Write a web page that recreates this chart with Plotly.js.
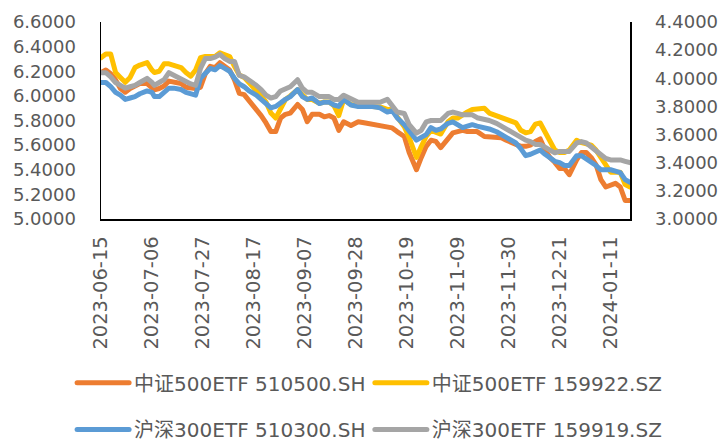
<!DOCTYPE html>
<html>
<head>
<meta charset="utf-8">
<script src="https://cdn.plot.ly/plotly-3.0.1.min.js"></script>
<style>
  html, body { margin: 0; padding: 0; background: #fff; }
  #chart { width: 721px; height: 441px; }
  .js-line { stroke-linejoin: round; stroke-linecap: round; }
</style>
</head>
<body>
<div id="chart"></div>
<script>
const dates = [
  '2023-06-15','2023-06-17','2023-06-19','2023-06-21','2023-06-23','2023-06-25','2023-06-27','2023-06-29','2023-07-01','2023-07-04',
  '2023-07-06','2023-07-07','2023-07-09','2023-07-11','2023-07-13','2023-07-15','2023-07-18','2023-07-20','2023-07-22','2023-07-24',
  '2023-07-26','2023-07-28','2023-07-30','2023-08-01','2023-08-03','2023-08-05','2023-08-07','2023-08-09','2023-08-11','2023-08-13',
  '2023-08-15','2023-08-18','2023-08-20','2023-08-22','2023-08-24','2023-08-26','2023-08-28','2023-08-30','2023-09-01','2023-09-04',
  '2023-09-06','2023-09-08','2023-09-10','2023-09-13','2023-09-15','2023-09-17','2023-09-19','2023-09-21','2023-09-23','2023-09-26',
  '2023-09-29','2023-10-02','2023-10-05','2023-10-08','2023-10-11','2023-10-13','2023-10-15','2023-10-18','2023-10-20','2023-10-23',
  '2023-10-25','2023-10-27','2023-10-29','2023-10-31','2023-11-02','2023-11-05','2023-11-07','2023-11-09','2023-11-11','2023-11-13',
  '2023-11-15','2023-11-17','2023-11-20','2023-11-22','2023-11-25','2023-11-27','2023-11-29','2023-12-01','2023-12-03','2023-12-05',
  '2023-12-07','2023-12-09','2023-12-11','2023-12-13','2023-12-15','2023-12-17','2023-12-19','2023-12-21','2023-12-23','2023-12-25',
  '2023-12-28','2023-12-30','2024-01-01','2024-01-03','2024-01-05','2024-01-07','2024-01-09','2024-01-11','2024-01-13','2024-01-15',
  '2024-01-17','2024-01-19'
];

// 中证500ETF 510500.SH (left axis)
const csi500_510500 = [
  6.19, 6.21, 6.18, 6.13, 6.06, 6.03, 6.06, 6.08, 6.10, 6.10,
  6.07, 6.05, 6.06, 6.08, 6.12, 6.11, 6.10, 6.07, 6.06, 6.06,
  6.07, 6.18, 6.24, 6.23, 6.27, 6.24, 6.21, 6.13, 6.02, 6.01,
  5.96, 5.90, 5.84, 5.78, 5.71, 5.71, 5.82, 5.85, 5.86, 5.93,
  5.89, 5.79, 5.85, 5.85, 5.83, 5.84, 5.82, 5.72, 5.79, 5.76,
  5.79, 5.78, 5.77, 5.76, 5.74, 5.74, 5.71, 5.67, 5.54, 5.40,
  5.50, 5.59, 5.64, 5.63, 5.58, 5.66, 5.70, 5.71, 5.72, 5.71,
  5.71, 5.71, 5.67, 5.67, 5.67, 5.66, 5.64, 5.62, 5.60, 5.59,
  5.59, 5.60, 5.63, 5.65, 5.56, 5.50, 5.46, 5.41, 5.41, 5.36,
  5.48, 5.54, 5.54, 5.50, 5.44, 5.32, 5.26, 5.28, 5.29, 5.26,
  5.15, 5.15
];

// 中证500ETF 159922.SZ (left axis)
const csi500_159922 = [
  6.31, 6.34, 6.34, 6.19, 6.15, 6.11, 6.15, 6.23, 6.25, 6.27,
  6.21, 6.19, 6.20, 6.26, 6.26, 6.25, 6.23, 6.19, 6.16, 6.21,
  6.31, 6.32, 6.32, 6.32, 6.35, 6.34, 6.32, 6.24, 6.17, 6.15,
  6.11, 6.05, 6.00, 5.95, 5.86, 5.82, 5.90, 5.97, 6.00, 6.05,
  6.01, 5.97, 5.97, 5.94, 5.95, 5.95, 5.92, 5.84, 5.97, 5.93,
  5.92, 5.92, 5.92, 5.91, 5.89, 5.89, 5.83, 5.75, 5.66, 5.50,
  5.59, 5.67, 5.72, 5.70, 5.69, 5.79, 5.82, 5.82, 5.85, 5.87,
  5.89, 5.89, 5.90, 5.86, 5.84, 5.83, 5.81, 5.80, 5.78, 5.72,
  5.70, 5.71, 5.77, 5.78, 5.71, 5.62, 5.56, 5.54, 5.54, 5.56,
  5.64, 5.62, 5.61, 5.60, 5.56, 5.50, 5.43, 5.38, 5.38, 5.38,
  5.28, 5.26
];

// 沪深300ETF 510300.SH (right axis)
const csi300_510300 = [
  3.97, 3.97, 3.94, 3.90, 3.88, 3.85, 3.86, 3.87, 3.89, 3.91,
  3.90, 3.87, 3.87, 3.90, 3.93, 3.93, 3.92, 3.90, 3.89, 3.88,
  4.00, 4.04, 4.07, 4.06, 4.09, 4.07, 4.05, 4.00, 3.96, 3.94,
  3.91, 3.88, 3.85, 3.81, 3.79, 3.80, 3.83, 3.85, 3.87, 3.92,
  3.87, 3.85, 3.86, 3.82, 3.83, 3.83, 3.81, 3.80, 3.85, 3.81,
  3.80, 3.80, 3.80, 3.79, 3.76, 3.77, 3.72, 3.67, 3.62, 3.56,
  3.58, 3.60, 3.65, 3.63, 3.64, 3.68, 3.69, 3.67, 3.65, 3.66,
  3.67, 3.66, 3.65, 3.64, 3.62, 3.60, 3.58, 3.57, 3.54, 3.50,
  3.45, 3.46, 3.48, 3.49, 3.46, 3.43, 3.41, 3.40, 3.38, 3.38,
  3.45, 3.45, 3.43, 3.41, 3.38, 3.35, 3.35, 3.35, 3.34, 3.33,
  3.28, 3.26
];

// 沪深300ETF 159919.SZ (right axis)
const csi300_159919 = [
  4.04, 4.04, 4.01, 3.97, 3.95, 3.93, 3.94, 3.95, 3.97, 4.00,
  3.97, 3.95, 3.97, 3.99, 4.04, 4.02, 4.00, 3.97, 3.96, 3.95,
  4.07, 4.14, 4.14, 4.15, 4.17, 4.14, 4.12, 4.12, 4.02, 4.01,
  3.99, 3.95, 3.92, 3.88, 3.86, 3.87, 3.91, 3.93, 3.94, 3.99,
  3.93, 3.90, 3.90, 3.87, 3.87, 3.87, 3.85, 3.85, 3.88, 3.85,
  3.83, 3.83, 3.83, 3.83, 3.85, 3.80, 3.76, 3.75, 3.67, 3.61,
  3.63, 3.69, 3.70, 3.70, 3.70, 3.75, 3.76, 3.75, 3.74, 3.74,
  3.74, 3.72, 3.71, 3.70, 3.68, 3.66, 3.65, 3.63, 3.61, 3.58,
  3.56, 3.55, 3.53, 3.53, 3.51, 3.50, 3.47, 3.48, 3.48, 3.48,
  3.54, 3.55, 3.54, 3.51, 3.48, 3.45, 3.43, 3.42, 3.42, 3.42,
  3.41, 3.40
];

const seriesNames = ['中证500ETF 510500.SH', '中证500ETF 159922.SZ', '沪深300ETF 510300.SH', '沪深300ETF 159919.SZ'];
const seriesColors = ['#ED7D31', '#FFC000', '#5B9BD5', '#A5A5A5'];
const seriesValues = [csi500_510500, csi500_159922, csi300_510300, csi300_159919];
const seriesAxes = ['y', 'y', 'y2', 'y2'];
const legendIds = ['legend', 'legend2', 'legend3', 'legend4'];

const LW = 5;
const traces = seriesValues.map((vals, i) => ({
  type: 'scatter', mode: 'lines',
  x: dates, y: vals, name: seriesNames[i],
  yaxis: seriesAxes[i], legend: legendIds[i],
  line: { color: seriesColors[i], width: LW, shape: 'linear' },
  hoverinfo: 'skip'
}));

const tickFont = { family: 'DejaVu Sans, sans-serif', size: 18, color: '#595959' };
const xTickFont = { family: 'DejaVu Sans, sans-serif', size: 19.5, color: '#595959' };
const legendFont = { family: 'DejaVu Sans, Noto Sans CJK SC, sans-serif', size: 20, color: '#595959' };

function legendAt(xc, yc) {
  return {
    orientation: 'h', xref: 'container', yref: 'container',
    x: xc, xanchor: 'left', y: yc, yanchor: 'middle',
    font: legendFont, itemwidth: 52, borderwidth: 0,
    bgcolor: 'rgba(0,0,0,0)'
  };
}

const layout = {
  width: 721, height: 441,
  margin: { l: 101, r: 91, t: 22, b: 222 },
  paper_bgcolor: '#ffffff', plot_bgcolor: '#ffffff',
  showlegend: true,
  xaxis: {
    type: 'date',
    range: ['2023-06-15', '2024-01-19'],
    tick0: '2023-06-15', dtick: 21 * 86400000,
    tickformat: '%Y-%m-%d', tickangle: -90,
    showgrid: false, zeroline: false,
    showline: true, linecolor: '#000000', linewidth: 1.5,
    ticks: '', ticklabelstandoff: 8,
    tickfont: xTickFont
  },
  yaxis: {
    range: [5.0, 6.6], dtick: 0.2, tick0: 5.0, tickformat: '.4f',
    showgrid: false, zeroline: false,
    showline: true, linecolor: '#000000', linewidth: 1.5,
    ticks: '', ticklabelstandoff: 20,
    tickfont: tickFont
  },
  yaxis2: {
    overlaying: 'y', side: 'right',
    range: [3.0, 4.4], dtick: 0.2, tick0: 3.0, tickformat: '.4f',
    showgrid: false, zeroline: false,
    showline: true, linecolor: '#000000', linewidth: 1.5,
    ticks: '', ticklabelstandoff: 20,
    tickfont: tickFont
  },
  legend: legendAt(0.100, 0.132),
  legend2: legendAt(0.513, 0.132),
  legend3: legendAt(0.100, 0.026),
  legend4: legendAt(0.513, 0.026)
};

Plotly.newPlot('chart', traces, layout, { staticPlot: true, displayModeBar: false });
</script>
</body>
</html>
